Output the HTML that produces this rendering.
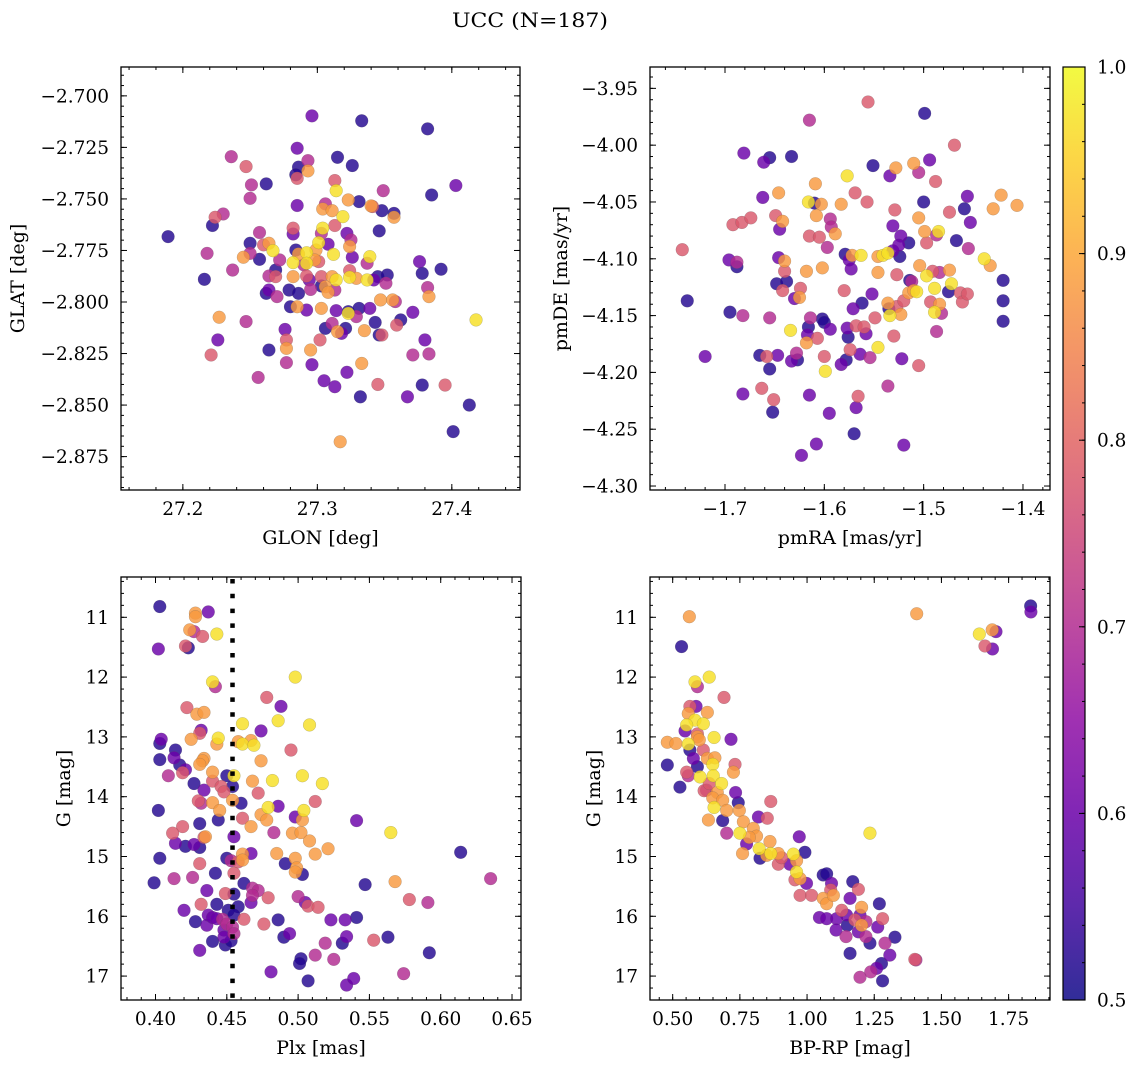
<!DOCTYPE html>
<html><head><meta charset="utf-8">
<style>
html,body{margin:0;padding:0;background:#fff;}
svg{display:block;font-family:"DejaVu Serif","Liberation Serif",serif;}
</style></head>
<body>
<svg id="fig" width="1136" height="1067" viewBox="0 0 1136 1067" xmlns="http://www.w3.org/2000/svg">
<text x="530" y="27" font-size="20" text-anchor="middle" textLength="156" lengthAdjust="spacingAndGlyphs">UCC (N=187)</text>
</svg>
<script>
// ---------------- Panel 1: GLON / GLAT ----------------
const glon = [27.296,27.333,27.382,27.285,27.236,27.315,27.293,27.247,27.326,27.286,
27.293,27.284,27.285,27.313,27.251,27.262,27.403,27.314,27.349,27.250,
27.385,27.285,27.323,27.306,27.304,27.311,27.331,27.341,27.340,27.348,
27.319,27.357,27.357,27.230,27.224,27.222,27.257,27.282,27.282,27.304,
27.303,27.313,27.189,27.346,27.322,27.325,27.301,27.250,27.260,27.264,
27.267,27.218,27.245,27.257,27.250,27.284,27.286,27.292,27.299,27.308,
27.312,27.324,27.272,27.282,27.292,27.290,27.298,27.301,27.326,27.339,
27.337,27.376,27.392,27.237,27.216,27.269,27.269,27.264,27.282,27.292,
27.294,27.303,27.311,27.324,27.324,27.329,27.337,27.342,27.345,27.352,
27.351,27.314,27.306,27.313,27.378,27.382,27.383,27.264,27.262,27.270,
27.279,27.286,27.295,27.303,27.308,27.280,27.285,27.292,27.303,27.314,
27.323,27.323,27.331,27.339,27.347,27.356,27.358,27.329,27.371,27.343,
27.362,27.359,27.418,27.227,27.247,27.276,27.306,27.311,27.315,27.321,
27.335,27.346,27.348,27.318,27.277,27.302,27.380,27.226,27.264,27.277,
27.295,27.383,27.371,27.221,27.277,27.296,27.333,27.322,27.256,27.305,
27.313,27.345,27.378,27.395,27.332,27.367,27.413,27.401,27.317];
const glat = [-2.7097,-2.7121,-2.7160,-2.7254,-2.7295,-2.7298,-2.7314,-2.7343,-2.7338,-2.7346,
-2.7364,-2.7383,-2.7400,-2.7411,-2.7432,-2.7427,-2.7435,-2.7460,-2.7460,-2.7497,
-2.7481,-2.7532,-2.7505,-2.7524,-2.7549,-2.7557,-2.7513,-2.7537,-2.7534,-2.7557,
-2.7586,-2.7570,-2.7589,-2.7573,-2.7589,-2.7629,-2.7663,-2.7642,-2.7670,-2.7642,
-2.7667,-2.7629,-2.7683,-2.7655,-2.7667,-2.7699,-2.7712,-2.7715,-2.7723,-2.7715,
-2.7751,-2.7764,-2.7783,-2.7793,-2.7764,-2.7748,-2.7767,-2.7761,-2.7748,-2.7720,
-2.7769,-2.7731,-2.7796,-2.7809,-2.7812,-2.7820,-2.7796,-2.7804,-2.7783,-2.7780,
-2.7812,-2.7804,-2.7841,-2.7845,-2.7890,-2.7845,-2.7877,-2.7874,-2.7877,-2.7874,
-2.7893,-2.7877,-2.7877,-2.7848,-2.7880,-2.7885,-2.7893,-2.7893,-2.7877,-2.7869,
-2.7909,-2.7893,-2.7926,-2.7942,-2.7861,-2.7930,-2.7974,-2.7942,-2.7958,-2.7974,
-2.7942,-2.7958,-2.7939,-2.7922,-2.7953,-2.8023,-2.8023,-2.8039,-2.8031,-2.8042,
-2.8047,-2.8055,-2.8031,-2.8031,-2.7990,-2.7990,-2.7998,-2.8071,-2.8050,-2.8099,
-2.8087,-2.8112,-2.8087,-2.8074,-2.8095,-2.8133,-2.8128,-2.8104,-2.8144,-2.8128,
-2.8139,-2.8160,-2.8160,-2.8152,-2.8184,-2.8184,-2.8184,-2.8184,-2.8233,-2.8225,
-2.8233,-2.8252,-2.8257,-2.8257,-2.8294,-2.8304,-2.8298,-2.8341,-2.8366,-2.8382,
-2.8411,-2.8400,-2.8403,-2.8403,-2.8460,-2.8460,-2.8500,-2.8629,-2.8678];
const prob1 = [0.6,0.52,0.52,0.6,0.7,0.52,0.7,0.78,0.52,0.52,
0.88,0.52,0.78,0.78,0.7,0.52,0.6,0.97,0.7,0.7,
0.52,0.6,0.88,0.7,0.88,0.88,0.52,0.78,0.88,0.52,
0.97,0.52,0.88,0.7,0.78,0.52,0.7,0.78,0.6,0.97,
0.7,0.78,0.52,0.52,0.6,0.7,0.97,0.52,0.78,0.88,
0.97,0.7,0.88,0.52,0.7,0.52,0.88,0.97,0.88,0.6,
0.97,0.88,0.7,0.97,0.97,0.7,0.88,0.78,0.6,0.97,
0.7,0.6,0.52,0.7,0.52,0.52,0.78,0.7,0.88,0.78,
0.6,0.78,0.88,0.78,0.97,0.88,0.97,0.6,0.52,0.52,
0.7,0.97,0.88,0.7,0.52,0.7,0.88,0.6,0.52,0.7,
0.52,0.52,0.7,0.52,0.88,0.52,0.88,0.6,0.88,0.6,
0.52,0.97,0.52,0.6,0.88,0.88,0.7,0.7,0.6,0.52,
0.52,0.78,0.97,0.88,0.7,0.6,0.52,0.7,0.88,0.52,
0.88,0.52,0.78,0.6,0.78,0.78,0.6,0.6,0.52,0.88,
0.88,0.7,0.7,0.78,0.7,0.6,0.88,0.6,0.7,0.6,
0.6,0.78,0.52,0.78,0.52,0.6,0.52,0.52,0.88];

// ---------------- Panel 2: pmRA / pmDE ----------------
const pmra = [-1.556,-1.499,-1.615,-1.681,-1.469,-1.661,-1.655,-1.633,-1.551,-1.528,
-1.534,-1.510,-1.505,-1.494,-1.577,-1.488,-1.609,-1.646,-1.662,-1.569,
-1.557,-1.616,-1.610,-1.603,-1.583,-1.500,-1.529,-1.456,-1.459,-1.474,
-1.422,-1.430,-1.406,-1.692,-1.683,-1.674,-1.649,-1.642,-1.645,-1.608,
-1.594,-1.593,-1.589,-1.615,-1.605,-1.531,-1.505,-1.499,-1.485,-1.487,
-1.453,-1.523,-1.515,-1.497,-1.467,-1.597,-1.743,-1.696,-1.688,-1.688,
-1.646,-1.640,-1.640,-1.618,-1.602,-1.579,-1.575,-1.573,-1.572,-1.563,
-1.546,-1.541,-1.536,-1.531,-1.525,-1.524,-1.504,-1.497,-1.491,-1.474,
-1.527,-1.546,-1.455,-1.439,-1.433,-1.420,-1.648,-1.638,-1.642,-1.624,
-1.630,-1.625,-1.580,-1.552,-1.562,-1.571,-1.536,-1.535,-1.527,-1.520,
-1.515,-1.510,-1.507,-1.512,-1.514,-1.489,-1.484,-1.475,-1.472,-1.463,
-1.461,-1.456,-1.493,-1.489,-1.484,-1.482,-1.420,-1.738,-1.695,-1.682,
-1.655,-1.634,-1.616,-1.614,-1.617,-1.602,-1.600,-1.594,-1.607,-1.618,
-1.577,-1.576,-1.568,-1.560,-1.558,-1.549,-1.546,-1.534,-1.530,-1.523,
-1.487,-1.420,-1.720,-1.665,-1.658,-1.647,-1.655,-1.628,-1.627,-1.633,
-1.600,-1.578,-1.574,-1.583,-1.564,-1.554,-1.522,-1.505,-1.599,-1.682,
-1.663,-1.651,-1.652,-1.615,-1.595,-1.566,-1.568,-1.536,-1.570,-1.608,
-1.623,-1.520];
const pmde = [-3.962,-3.972,-3.978,-4.007,-4.000,-4.015,-4.011,-4.010,-4.018,-4.020,
-4.027,-4.016,-4.024,-4.013,-4.027,-4.032,-4.034,-4.042,-4.046,-4.042,
-4.050,-4.050,-4.051,-4.052,-4.052,-4.050,-4.057,-4.045,-4.056,-4.059,
-4.044,-4.056,-4.053,-4.070,-4.068,-4.064,-4.062,-4.067,-4.074,-4.062,
-4.065,-4.072,-4.078,-4.080,-4.081,-4.071,-4.064,-4.076,-4.076,-4.079,
-4.068,-4.080,-4.086,-4.086,-4.084,-4.090,-4.092,-4.101,-4.103,-4.107,
-4.099,-4.102,-4.111,-4.111,-4.108,-4.096,-4.101,-4.109,-4.097,-4.097,
-4.098,-4.097,-4.095,-4.093,-4.088,-4.098,-4.106,-4.115,-4.111,-4.110,
-4.114,-4.112,-4.091,-4.100,-4.106,-4.119,-4.122,-4.120,-4.128,-4.126,
-4.135,-4.134,-4.128,-4.131,-4.139,-4.144,-4.139,-4.144,-4.142,-4.137,
-4.130,-4.128,-4.129,-4.120,-4.119,-4.126,-4.112,-4.129,-4.122,-4.130,
-4.138,-4.131,-4.138,-4.147,-4.140,-4.148,-4.137,-4.137,-4.147,-4.150,
-4.152,-4.163,-4.160,-4.152,-4.167,-4.153,-4.156,-4.162,-4.170,-4.174,
-4.161,-4.169,-4.159,-4.160,-4.166,-4.152,-4.178,-4.150,-4.168,-4.149,
-4.164,-4.155,-4.186,-4.185,-4.186,-4.185,-4.197,-4.183,-4.189,-4.190,
-4.186,-4.189,-4.180,-4.193,-4.184,-4.187,-4.188,-4.194,-4.199,-4.219,
-4.214,-4.224,-4.235,-4.220,-4.236,-4.221,-4.231,-4.212,-4.254,-4.263,
-4.273,-4.264];
const prob2 = [0.78,0.52,0.7,0.6,0.78,0.6,0.52,0.52,0.52,0.88,
0.6,0.88,0.7,0.6,0.97,0.78,0.88,0.88,0.6,0.78,
0.78,0.97,0.52,0.88,0.88,0.52,0.78,0.6,0.52,0.78,
0.88,0.88,0.88,0.78,0.78,0.78,0.78,0.88,0.6,0.88,
0.7,0.7,0.88,0.78,0.78,0.6,0.88,0.88,0.97,0.7,
0.6,0.6,0.52,0.78,0.52,0.7,0.78,0.6,0.7,0.52,
0.6,0.88,0.78,0.88,0.88,0.52,0.6,0.6,0.88,0.97,
0.88,0.97,0.97,0.6,0.6,0.52,0.88,0.97,0.78,0.88,
0.78,0.88,0.7,0.97,0.88,0.52,0.52,0.52,0.78,0.78,
0.6,0.88,0.78,0.6,0.52,0.6,0.88,0.52,0.78,0.78,
0.88,0.88,0.97,0.7,0.52,0.97,0.7,0.52,0.97,0.78,
0.78,0.78,0.78,0.97,0.88,0.7,0.52,0.52,0.52,0.7,
0.7,0.97,0.52,0.7,0.6,0.52,0.52,0.6,0.78,0.88,
0.6,0.52,0.78,0.78,0.6,0.78,0.97,0.97,0.78,0.88,
0.7,0.52,0.6,0.52,0.78,0.6,0.52,0.7,0.52,0.6,
0.78,0.52,0.78,0.6,0.6,0.7,0.6,0.78,0.97,0.6,
0.78,0.78,0.52,0.6,0.6,0.78,0.6,0.7,0.52,0.6,
0.6,0.6];

// ---------------- Panel 3: Plx / G ----------------
const plx = [0.403,0.437,0.428,0.428,0.402,0.443,0.424,0.427,0.433,0.421,
0.423,0.440,0.442,0.498,0.478,0.488,0.422,0.429,0.434,0.461,
0.486,0.508,0.474,0.432,0.431,0.425,0.444,0.443,0.403,0.404,
0.414,0.458,0.461,0.467,0.469,0.495,0.403,0.413,0.417,0.421,
0.434,0.433,0.431,0.409,0.419,0.427,0.434,0.440,0.440,0.446,
0.450,0.455,0.474,0.468,0.482,0.503,0.517,0.448,0.454,0.454,
0.460,0.472,0.430,0.432,0.440,0.445,0.444,0.479,0.474,0.478,
0.486,0.504,0.503,0.498,0.512,0.402,0.431,0.461,0.467,0.483,
0.496,0.502,0.508,0.565,0.541,0.419,0.412,0.414,0.421,0.427,
0.431,0.435,0.434,0.455,0.467,0.461,0.485,0.498,0.512,0.521,
0.614,0.403,0.431,0.450,0.453,0.458,0.461,0.491,0.499,0.498,
0.503,0.399,0.413,0.426,0.442,0.547,0.568,0.635,0.455,0.462,
0.468,0.472,0.468,0.479,0.467,0.449,0.436,0.432,0.443,0.455,
0.500,0.505,0.507,0.514,0.578,0.591,0.420,0.451,0.458,0.455,
0.462,0.428,0.436,0.437,0.440,0.443,0.447,0.448,0.450,0.454,
0.455,0.448,0.440,0.449,0.453,0.431,0.476,0.486,0.494,0.490,
0.523,0.533,0.541,0.534,0.531,0.519,0.553,0.563,0.592,0.512,
0.525,0.502,0.501,0.481,0.507,0.534,0.539,0.574];
const gmag3 = [10.82,10.91,10.93,10.99,11.53,11.28,11.21,11.24,11.32,11.48,
11.51,12.08,12.16,12.00,12.34,12.49,12.51,12.62,12.59,12.78,
12.73,12.80,12.90,12.89,12.94,13.04,13.02,13.12,13.11,13.04,
13.22,13.08,13.12,13.06,13.14,13.22,13.38,13.35,13.47,13.55,
13.36,13.40,13.46,13.65,13.60,13.78,13.89,13.59,13.74,13.83,
13.65,13.65,13.40,13.74,13.73,13.65,13.78,13.92,13.83,14.06,
14.11,13.94,14.07,14.11,14.10,14.23,14.39,14.18,14.30,14.39,
14.16,14.23,14.39,14.34,14.08,14.23,14.45,14.36,14.50,14.60,
14.61,14.60,14.74,14.60,14.40,14.50,14.61,14.78,14.83,14.80,
14.85,14.67,14.68,14.67,14.95,14.96,14.95,15.03,14.96,14.87,
14.93,15.03,15.12,15.03,15.07,15.09,15.06,15.12,15.19,15.26,
15.30,15.44,15.37,15.35,15.28,15.47,15.42,15.37,15.28,15.45,
15.53,15.57,15.65,15.69,15.77,15.62,15.57,15.80,15.80,15.63,
15.67,15.77,15.83,15.85,15.72,15.77,15.90,15.90,15.84,15.98,
16.05,16.09,16.15,15.98,16.02,16.04,16.05,16.23,16.13,16.18,
16.29,16.35,16.42,16.48,16.41,16.57,16.13,16.06,16.29,16.35,
16.06,16.06,16.02,16.34,16.45,16.45,16.40,16.35,16.61,16.65,
16.72,16.71,16.79,16.93,17.08,17.15,17.04,16.96];
const prob3 = [0.52,0.6,0.88,0.88,0.6,0.97,0.88,0.7,0.78,0.78,
0.52,0.97,0.7,0.97,0.78,0.6,0.78,0.88,0.88,0.97,
0.97,0.97,0.6,0.6,0.78,0.88,0.97,0.88,0.52,0.6,
0.52,0.88,0.97,0.88,0.97,0.78,0.52,0.6,0.52,0.6,
0.88,0.88,0.88,0.7,0.78,0.52,0.6,0.88,0.78,0.78,
0.52,0.97,0.88,0.88,0.97,0.97,0.97,0.78,0.52,0.88,
0.52,0.78,0.78,0.7,0.88,0.88,0.52,0.97,0.88,0.88,
0.6,0.97,0.88,0.6,0.78,0.52,0.52,0.78,0.88,0.7,
0.88,0.88,0.88,0.97,0.6,0.78,0.78,0.6,0.52,0.6,
0.52,0.88,0.78,0.6,0.6,0.88,0.88,0.88,0.88,0.88,
0.52,0.52,0.78,0.52,0.7,0.78,0.88,0.52,0.88,0.88,
0.52,0.52,0.7,0.7,0.52,0.52,0.88,0.7,0.78,0.52,
0.7,0.7,0.7,0.78,0.6,0.78,0.6,0.78,0.52,0.52,
0.7,0.6,0.78,0.78,0.78,0.7,0.6,0.52,0.52,0.52,
0.78,0.52,0.6,0.6,0.6,0.6,0.7,0.6,0.7,0.7,
0.7,0.6,0.52,0.52,0.52,0.6,0.78,0.52,0.6,0.52,
0.6,0.6,0.52,0.6,0.52,0.7,0.78,0.52,0.52,0.7,
0.7,0.52,0.52,0.6,0.52,0.6,0.6,0.7];
const plxCut = [0.454];

// ---------------- Panel 4: BP-RP / G ----------------
const bprp = [0.562,0.533,1.408,1.832,1.833,1.641,1.689,1.703,1.662,1.690,
0.583,0.592,0.636,0.691,0.587,0.564,0.558,0.629,0.583,0.614,
0.552,0.546,0.592,0.592,0.599,0.654,0.717,0.480,0.512,0.558,
0.564,0.577,0.614,0.629,0.657,0.649,0.480,0.552,0.558,0.592,
0.602,0.651,0.682,0.732,0.726,0.527,0.617,0.626,0.636,0.666,
0.649,0.686,0.701,0.654,0.633,0.686,0.701,0.734,0.744,0.865,
0.819,0.852,0.748,0.763,0.750,0.800,0.812,0.775,0.785,0.760,
0.822,0.825,0.850,0.862,0.865,0.893,0.893,0.936,0.905,0.971,
0.992,0.949,0.961,0.961,0.974,0.955,0.998,0.974,1.017,1.060,
1.073,1.091,1.060,1.073,1.088,1.098,1.046,1.073,1.110,1.108,
1.129,1.147,1.150,1.145,1.160,1.170,1.191,1.178,1.160,1.191,
1.203,1.203,1.197,1.219,1.219,1.234,1.263,1.269,1.281,1.290,
1.308,1.327,1.277,1.281,1.259,1.237,1.197,1.234,1.401,1.405];
const gmag4 = [10.99,11.49,10.94,10.81,10.91,11.28,11.21,11.24,11.48,11.53,
12.08,12.16,12.00,12.34,12.49,12.49,12.61,12.59,12.72,12.78,
12.80,12.90,12.95,13.00,13.05,13.01,13.04,13.09,13.11,13.12,
13.22,13.36,13.22,13.36,13.35,13.46,13.47,13.59,13.65,13.50,
13.67,13.65,13.78,13.46,13.59,13.84,13.90,13.89,13.78,13.93,
14.02,14.06,14.23,14.18,14.39,14.40,14.61,13.93,14.10,14.08,
14.34,14.36,14.23,14.42,14.61,14.53,14.66,14.79,14.68,14.95,
14.87,15.03,14.98,14.75,14.95,14.95,15.13,15.13,15.02,14.67,
14.93,14.96,15.07,15.26,15.37,15.39,15.45,15.65,15.65,15.31,
15.29,15.45,15.70,15.79,15.56,15.65,16.02,16.04,16.04,16.23,
15.90,15.98,16.15,16.34,15.70,15.42,15.55,16.06,16.62,16.26,
16.15,15.85,15.98,16.09,16.34,16.45,16.18,15.79,16.04,16.45,
16.65,16.35,16.79,17.08,16.87,16.93,17.02,14.61,16.72,16.73];
const prob4 = [0.88,0.52,0.88,0.52,0.6,0.97,0.88,0.6,0.78,0.6,
0.97,0.7,0.97,0.78,0.6,0.78,0.88,0.88,0.97,0.97,
0.97,0.6,0.78,0.88,0.88,0.97,0.6,0.88,0.88,0.97,
0.52,0.6,0.78,0.88,0.88,0.97,0.52,0.78,0.7,0.52,
0.97,0.97,0.97,0.78,0.88,0.52,0.78,0.7,0.78,0.88,
0.88,0.88,0.88,0.97,0.88,0.52,0.7,0.6,0.52,0.78,
0.6,0.78,0.88,0.88,0.97,0.88,0.88,0.6,0.88,0.88,
0.97,0.52,0.88,0.88,0.97,0.88,0.78,0.6,0.78,0.6,
0.52,0.97,0.88,0.97,0.88,0.78,0.6,0.78,0.78,0.52,
0.52,0.6,0.88,0.88,0.78,0.88,0.6,0.6,0.6,0.6,
0.78,0.6,0.52,0.7,0.6,0.52,0.78,0.78,0.52,0.6,
0.88,0.88,0.6,0.7,0.7,0.52,0.6,0.52,0.78,0.7,
0.6,0.52,0.52,0.52,0.6,0.7,0.7,0.97,0.78,0.7];

// ---------------- Colorbar ticks ----------------
const cbarTicks = [0.5,0.6,0.7,0.8,0.9,1.0];

// ---------------- helpers ----------------
const NS = "http://www.w3.org/2000/svg";
const svg = document.getElementById('fig');
function mk(tag, attrs, parent){
  const e = document.createElementNS(NS, tag);
  for (const k in attrs) e.setAttribute(k, attrs[k]);
  (parent||svg).appendChild(e);
  return e;
}
const plasma = [[0,13,8,135],[0.1,65,4,157],[0.2,106,0,168],[0.3,143,13,164],[0.4,177,42,144],[0.5,204,71,120],[0.6,225,100,98],[0.7,242,132,75],[0.8,252,166,54],[0.9,252,206,37],[1,240,249,33]];
function cmap(t){
  t = Math.max(0, Math.min(1, t));
  for (let i=0;i<plasma.length-1;i++){
    const a=plasma[i], b=plasma[i+1];
    if (t<=b[0]){ const f=(t-a[0])/(b[0]-a[0]);
      return 'rgb('+[1,2,3].map(j=>Math.round(a[j]+(b[j]-a[j])*f)).join(',')+')'; }
  }
  return 'rgb(240,249,33)';
}
const vmin=0.5, vmax=1.0;
function fmtMinus(s){ return s.replace('-', '\u2212'); }
const FS = 18.5;
function labelWidth(s){
  let w=0; for (const ch of s){ w += ch==='\u2212' ? 0.838 : (ch==='.' ? 0.318 : 0.636); }
  return w*FS;
}
function range(a,b,step){ const r=[]; const n=Math.round((b-a)/step); for(let i=0;i<=n;i++) r.push(+(a+i*step).toFixed(6)); return r; }

function panel(cfg){
  const g = mk('g', {});
  
  
  const sx = v => cfg.x0 + (v-cfg.xd[0])/(cfg.xd[1]-cfg.xd[0])*(cfg.x1-cfg.x0);
  const sy = cfg.yInv
    ? v => cfg.y0 + (v-cfg.yd[0])/(cfg.yd[1]-cfg.yd[0])*(cfg.y1-cfg.y0)
    : v => cfg.y1 - (v-cfg.yd[0])/(cfg.yd[1]-cfg.yd[0])*(cfg.y1-cfg.y0);
  const clip = mk('clipPath', {id: cfg.name+'-clip'}, g);
  mk('rect', {x:cfg.x0, y:cfg.y0, width:cfg.x1-cfg.x0, height:cfg.y1-cfg.y0}, clip);
  const pts = mk('g', {'clip-path':'url(#'+cfg.name+'-clip)'}, g);
  
  
  const n = Math.min(cfg.xs.length, cfg.ys.length, cfg.ps.length);
  const idx = []; for (let i=0;i<n;i++) idx.push(i);
  idx.sort((a,b)=>cfg.ps[a]-cfg.ps[b]);
  idx.forEach(i=>{
    const c = mk('circle', {cx:sx(cfg.xs[i]).toFixed(2), cy:sy(cfg.ys[i]).toFixed(2), r:6.4,
      fill:cmap((cfg.ps[i]-vmin)/(vmax-vmin)), 'fill-opacity':0.82, stroke:'#555', 'stroke-opacity':0.35, 'stroke-width':0.5}, pts);
    
    
  });
  if (cfg.vline){
    cfg.vline.forEach(v=>{
      const l = mk('line', {x1:sx(v), x2:sx(v), y1:cfg.y0+2, y2:cfg.y1, stroke:'#000', 'stroke-width':4.5, 'stroke-dasharray':'4.5 10.3'}, g);
      
      
    });
  }
  const tk = mk('g', {stroke:'#000', 'stroke-width':1}, g);
  
  
  const inX = v => v>=Math.min(...cfg.xd)-1e-9 && v<=Math.max(...cfg.xd)+1e-9;
  const inY = v => v>=Math.min(...cfg.yd)-1e-9 && v<=Math.max(...cfg.yd)+1e-9;
  cfg.xminor.filter(inX).forEach(v=>{ const X=sx(v);
    mk('line',{x1:X,x2:X,y1:cfg.y1,y2:cfg.y1-3},tk); mk('line',{x1:X,x2:X,y1:cfg.y0,y2:cfg.y0+3},tk); });
  cfg.yminor.filter(inY).forEach(v=>{ const Y=sy(v);
    mk('line',{x1:cfg.x0,x2:cfg.x0+3,y1:Y,y2:Y},tk); mk('line',{x1:cfg.x1,x2:cfg.x1-3,y1:Y,y2:Y},tk); });
  cfg.xmajor.forEach(v=>{ const X=sx(v);
    mk('line',{x1:X,x2:X,y1:cfg.y1,y2:cfg.y1-6},tk); mk('line',{x1:X,x2:X,y1:cfg.y0,y2:cfg.y0+6},tk);
    const s = fmtMinus(v.toFixed(cfg.xdec));
    const t = mk('text',{x:X, y:cfg.y1+25, 'font-size':FS, 'text-anchor':'middle', textLength:labelWidth(s).toFixed(1), lengthAdjust:'spacingAndGlyphs'}, g);
    t.textContent = s;
    
    
  });
  cfg.ymajor.forEach(v=>{ const Y=sy(v);
    mk('line',{x1:cfg.x0,x2:cfg.x0+6,y1:Y,y2:Y},tk); mk('line',{x1:cfg.x1,x2:cfg.x1-6,y1:Y,y2:Y},tk);
    const s = fmtMinus(v.toFixed(cfg.ydec));
    const t = mk('text',{x:cfg.x0-12, y:Y+6.5, 'font-size':FS, 'text-anchor':'end', textLength:labelWidth(s).toFixed(1), lengthAdjust:'spacingAndGlyphs'}, g);
    t.textContent = s;
    
    
  });
  const fr = mk('rect',{x:cfg.x0, y:cfg.y0, width:cfg.x1-cfg.x0, height:cfg.y1-cfg.y0, fill:'none', stroke:'#000', 'stroke-width':1.3}, g);
  
  
  const xl = mk('text',{x:(cfg.x0+cfg.x1)/2, y:cfg.y1+54, 'font-size':19, 'text-anchor':'middle'}, g);
  xl.textContent = cfg.xlabel;
  
  
  const yc = (cfg.y0+cfg.y1)/2;
  const yl = mk('text',{x:cfg.ylx, y:yc, 'font-size':19, 'text-anchor':'middle', transform:'rotate(-90 '+cfg.ylx+' '+yc+')'}, g);
  yl.textContent = cfg.ylabel;
  
  
}

panel({name:'glon-glat-panel', x0:121, x1:520, y0:67, y1:490, xd:[27.154,27.4507], yd:[-2.8912,-2.686],
  xs:glon, ys:glat, ps:prob1, xmajor:[27.2,27.3,27.4], xminor:range(27.16,27.44,0.02), xdec:1,
  ymajor:range(-2.875,-2.7,0.025), yminor:range(-2.89,-2.69,0.005), ydec:3,
  xlabel:'GLON [deg]', ylabel:'GLAT [deg]', ylx:24});
panel({name:'pm-panel', x0:650, x1:1050, y0:67, y1:490, xd:[-1.7755,-1.3728], yd:[-4.3035,-3.9312],
  xs:pmra, ys:pmde, ps:prob2, xmajor:[-1.7,-1.6,-1.5,-1.4], xminor:range(-1.76,-1.38,0.02), xdec:1,
  ymajor:range(-4.3,-3.95,0.05), yminor:range(-4.3,-3.94,0.01), ydec:2,
  xlabel:'pmRA [mas/yr]', ylabel:'pmDE [mas/yr]', ylx:567});
panel({name:'plx-g-panel', x0:121, x1:521, y0:577, y1:1000, xd:[0.3758,0.6563], yd:[10.326,17.40], yInv:true,
  xs:plx, ys:gmag3, ps:prob3, xmajor:range(0.40,0.65,0.05), xminor:range(0.38,0.65,0.01), xdec:2,
  ymajor:range(11,17,1), yminor:range(10.4,17.4,0.2), ydec:0, vline:plxCut,
  xlabel:'Plx [mas]', ylabel:'G [mag]', ylx:70});
panel({name:'cmd-panel', x0:650, x1:1050, y0:577, y1:1000, xd:[0.4156,1.904], yd:[10.326,17.40], yInv:true,
  xs:bprp, ys:gmag4, ps:prob4, xmajor:range(0.5,1.75,0.25), xminor:range(0.45,1.9,0.05), xdec:2,
  ymajor:range(11,17,1), yminor:range(10.4,17.4,0.2), ydec:0,
  xlabel:'BP-RP [mag]', ylabel:'G [mag]', ylx:600});

// colorbar
(function(){
  const cx0=1063, cx1=1085, cy0=67, cy1=1000;
  const g = mk('g', {});
  
  
  const defs = mk('defs', {}, g);
  const lg = mk('linearGradient', {id:'cbgrad', x1:0, y1:1, x2:0, y2:0}, defs);
  for (let i=0;i<=20;i++){ mk('stop', {offset:i/20, 'stop-color':cmap(i/20), 'stop-opacity':0.85}, lg); }
  const r = mk('rect', {x:cx0, y:cy0, width:cx1-cx0, height:cy1-cy0, fill:'url(#cbgrad)', stroke:'#000', 'stroke-width':1.2}, g);
  
  
  const sy = v => cy1 - (v-vmin)/(vmax-vmin)*(cy1-cy0);
  range(0.5,1.0,0.02).forEach(v=>{ const Y=sy(v); mk('line',{x1:cx1,x2:cx1-3,y1:Y,y2:Y,stroke:'#000','stroke-width':1},g); });
  cbarTicks.forEach(v=>{ const Y=sy(v);
    mk('line',{x1:cx1,x2:cx1-6,y1:Y,y2:Y,stroke:'#000','stroke-width':1},g);
    const s = v.toFixed(1);
    const t = mk('text',{x:1097, y:Y+6.5, 'font-size':FS, textLength:labelWidth(s).toFixed(1), lengthAdjust:'spacingAndGlyphs'}, g);
    t.textContent = s;
    
    
  });
})();
</script>
</body></html>
